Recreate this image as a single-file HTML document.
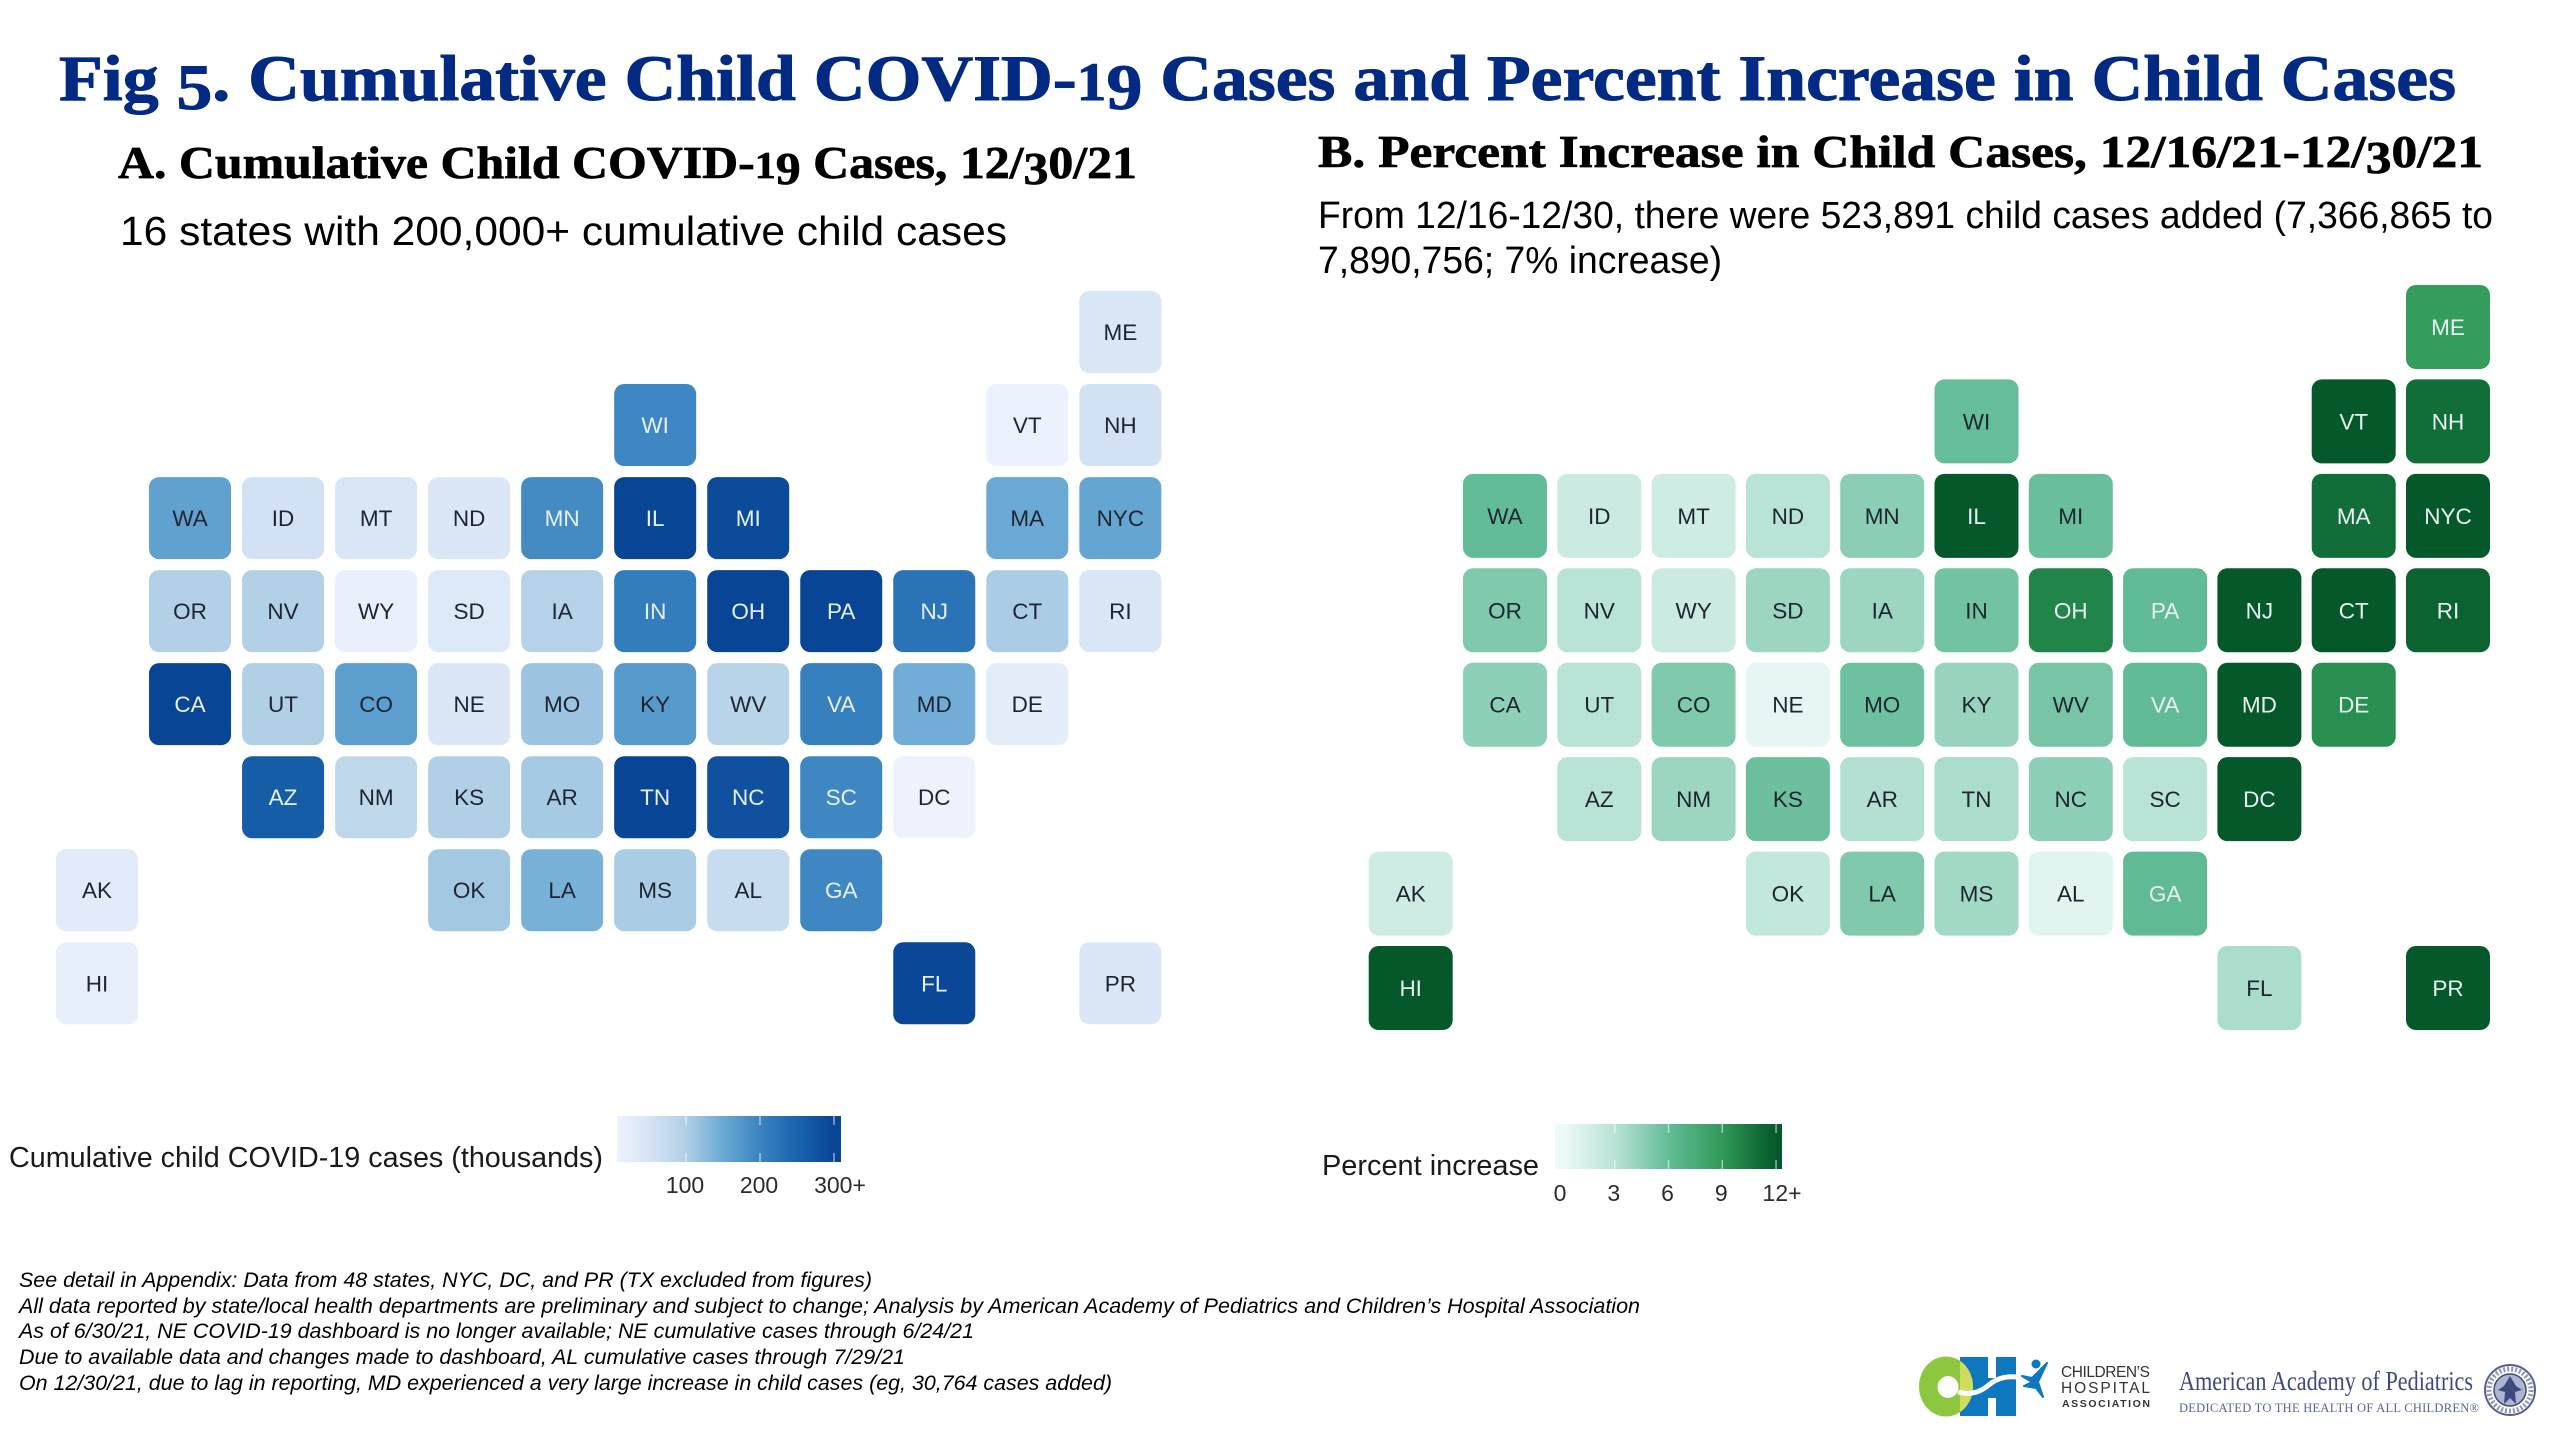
<!DOCTYPE html>
<html lang="en">
<head>
<meta charset="utf-8">
<title>Fig 5. Cumulative Child COVID-19 Cases and Percent Increase in Child Cases</title>
<style>
html,body{margin:0;padding:0;background:#fff;}
svg{display:block;}
.serif{font-family:"Liberation Serif",serif;font-weight:700;}
.sans{font-family:"Liberation Sans",sans-serif;}
</style>
</head>
<body>
<svg id="fig" xmlns="http://www.w3.org/2000/svg" width="2552" height="1430" viewBox="0 0 2552 1430">
<defs>
  <linearGradient id="grad-a" x1="0" x2="1" y1="0" y2="0"></linearGradient>
  <linearGradient id="grad-b" x1="0" x2="1" y1="0" y2="0"></linearGradient>
  <clipPath id="lime-clip"><rect x="1960" y="1350" width="20" height="70"/></clipPath>
</defs>
<rect x="0" y="0" width="2552" height="1430" fill="#ffffff"/>

<text class="serif" x="59" y="100" font-size="65" fill="#022a82" stroke="#022a82" stroke-width="1" textLength="2397" lengthAdjust="spacingAndGlyphs">Fig <tspan dy="9">5</tspan><tspan dy="-9">. Cumulative Child COVID-</tspan><tspan font-size="54">1</tspan><tspan dy="9">9</tspan><tspan dy="-9"> Cases and Percent Increase in Child Cases</tspan></text>

<text class="serif" x="118" y="178" font-size="45" fill="#000" stroke="#000" stroke-width="0.7" textLength="1019" lengthAdjust="spacingAndGlyphs">A. Cumulative Child COVID-<tspan font-size="38">1</tspan><tspan dy="6">9</tspan><tspan dy="-6"> Cases, 12/</tspan><tspan dy="6">3</tspan><tspan dy="-6">0/21</tspan></text>
<text class="sans" x="120" y="245" font-size="41" fill="#000" textLength="887" lengthAdjust="spacingAndGlyphs">16 states with 200,000+ cumulative child cases</text>

<text class="serif" x="1318" y="167" font-size="45" fill="#000" stroke="#000" stroke-width="0.7" textLength="1165" lengthAdjust="spacingAndGlyphs">B. Percent Increase in Child Cases, 12/16/21-12/<tspan dy="6">3</tspan><tspan dy="-6">0/21</tspan></text>
<text class="sans" x="1318" y="228" font-size="38" fill="#000" textLength="1175" lengthAdjust="spacingAndGlyphs">From 12/16-12/30, there were 523,891 child cases added (7,366,865 to</text>
<text class="sans" x="1318" y="273" font-size="38" fill="#000" textLength="404" lengthAdjust="spacingAndGlyphs">7,890,756; 7% increase)</text>

<g id="map-a"></g>
<g id="map-b"></g>

<text class="sans" x="9" y="1167" font-size="29" fill="#1a1a1a" textLength="594" lengthAdjust="spacingAndGlyphs">Cumulative child COVID-19 cases (thousands)</text>
<g id="legend-a"></g>
<text class="sans" x="1322" y="1175" font-size="29" fill="#1a1a1a" textLength="217" lengthAdjust="spacingAndGlyphs">Percent increase</text>
<g id="legend-b"></g>

<g class="sans" font-size="21" font-style="italic" fill="#000">
  <text x="19" y="1287" textLength="853" lengthAdjust="spacingAndGlyphs">See detail in Appendix: Data from 48 states, NYC, DC, and PR (TX excluded from figures)</text>
  <text x="19" y="1313" textLength="1621" lengthAdjust="spacingAndGlyphs">All data reported by state/local health departments are preliminary and subject to change; Analysis by American Academy of Pediatrics and Children’s Hospital Association</text>
  <text x="19" y="1338" textLength="955" lengthAdjust="spacingAndGlyphs">As of 6/30/21, NE COVID-19 dashboard is no longer available; NE cumulative cases through 6/24/21</text>
  <text x="19" y="1364" textLength="886" lengthAdjust="spacingAndGlyphs">Due to available data and changes made to dashboard, AL cumulative cases through 7/29/21</text>
  <text x="19" y="1390" textLength="1093" lengthAdjust="spacingAndGlyphs">On 12/30/21, due to lag in reporting, MD experienced a very large increase in child cases (eg, 30,764 cases added)</text>
</g>

<g>
  <rect x="1960" y="1357" width="28" height="59" fill="#0f77bd"/>
  <rect x="1996" y="1357" width="20" height="59" fill="#0f77bd"/>
  <rect x="1987" y="1378" width="10" height="20" fill="#0f77bd"/>
  <path fill-rule="evenodd" d="M1919 1386.5 a27 30 0 1 0 54 0 a27 30 0 1 0 -54 0 Z M1937.5 1387 a10.5 11 0 1 0 21 0 a10.5 11 0 1 0 -21 0 Z" fill="#8dc63f"/>
  <path fill-rule="evenodd" clip-path="url(#lime-clip)" d="M1919 1386.5 a27 30 0 1 0 54 0 a27 30 0 1 0 -54 0 Z M1937.5 1387 a10.5 11 0 1 0 21 0 a10.5 11 0 1 0 -21 0 Z" fill="#cfdc5c"/>
  <path d="M1958 1392 C1972 1396 1982 1391 1990 1384 C1998 1378 2006 1376 2016 1377" fill="none" stroke="#fff" stroke-width="5"/>
  <circle cx="2036" cy="1364" r="4.5" fill="#0f77bd"/>
  <path d="M2022 1376 L2032 1378 L2047 1363 L2038 1382 L2043 1397 L2036 1388 L2024 1386 L2032 1382 Z" fill="#0f77bd" stroke="#0f77bd" stroke-width="2" stroke-linejoin="round"/>
  <g class="sans" fill="#333">
    <text x="2061" y="1377" font-size="15.5" textLength="89" lengthAdjust="spacing">CHILDREN’S</text>
    <text x="2061" y="1393" font-size="15.5" textLength="89" lengthAdjust="spacing">HOSPITAL</text>
    <text x="2062" y="1407" font-size="10.5" font-weight="700" textLength="88" lengthAdjust="spacing">ASSOCIATION</text>
  </g>
</g>

<g>
  <text x="2179" y="1390" font-size="27" fill="#3d4a80" textLength="294" lengthAdjust="spacingAndGlyphs" style="font-family:'Liberation Serif',serif">American Academy of Pediatrics</text>
  <text x="2179" y="1412" font-size="12.5" fill="#5a6590" textLength="300" lengthAdjust="spacing" style="font-family:'Liberation Serif',serif">DEDICATED TO THE HEALTH OF ALL CHILDREN®</text>
  <circle cx="2510" cy="1390" r="25" fill="#fff" stroke="#55608f" stroke-width="2"/>
  <circle cx="2510" cy="1390" r="21" fill="none" stroke="#8f96b5" stroke-width="5" stroke-dasharray="2 2"/>
  <circle cx="2510" cy="1390" r="16" fill="#aeb4cd" stroke="#3d4a80" stroke-width="1.5"/>
  <path d="M2510 1376 L2516 1386 L2522 1390 L2515 1392 L2516 1404 L2510 1398 L2504 1404 L2505 1392 L2498 1390 L2504 1386 Z" fill="#3d4a80"/>
</g>
</svg>

<script>
// Tile map categories and grid slots
const stateCodes = ["ME","WI","VT","NH","WA","ID","MT","ND","MN","IL","MI","MA","NYC","OR","NV","WY","SD","IA","IN","OH","PA","NJ","CT","RI","CA","UT","CO","NE","MO","KY","WV","VA","MD","DE","AZ","NM","KS","AR","TN","NC","SC","DC","AK","OK","LA","MS","AL","GA","HI","FL","PR"];
const stateColumns = [11,6,10,11,1,2,3,4,5,6,7,10,11,1,2,3,4,5,6,7,8,9,10,11,1,2,3,4,5,6,7,8,9,10,2,3,4,5,6,7,8,9,0,4,5,6,7,8,0,9,11];
const stateRows = [0,1,1,1,2,2,2,2,2,2,2,2,2,3,3,3,3,3,3,3,3,3,3,3,4,4,4,4,4,4,4,4,4,4,5,5,5,5,5,5,5,5,6,6,6,6,6,6,7,7,7];
const casesThousands = [45,195,12,55,160,55,45,40,190,300,290,150,155,98,98,15,35,95,210,300,300,225,105,45,300,100,165,40,115,170,90,205,145,25,260,80,100,108,300,280,195,8,30,110,140,105,70,195,18,295,40];
const percentIncrease = [8.7,5.9,12,11,6,2,1.8,3,4.6,12,5.8,11,12,5,3,2,4,4,5.5,10,6.1,12,12,11.5,4.5,3,5,0.5,5.6,4.2,5.3,6.1,12,9.5,3,4,5.7,3.2,3.5,4.5,3,12,1.8,2.5,5,3.8,0.8,6.2,12,3.5,12];
// Legend ticks
const ticksA = [100,200,300];
const tickLabelsA = ["100","200","300+"];
const ticksB = [0,3,6,9,12];
const tickLabelsB = ["0","3","6","9","12+"];
// Colour ramps
const rampAValues = [0,50,100,150,200,250,300];
const rampAColors = ["#f1f5ff","#d6e4f5","#b1d0e6","#6aa9d4","#3a83c0","#1a63ad","#084594"];
const rampBValues = [0,3,6,9,12];
const rampBColors = ["#f0fafa","#b9e3d6","#63bc98","#2f9a58","#04582a"];

const NS = "http://www.w3.org/2000/svg";
function hexToRgb(h){return [1,3,5].map(function(i){return parseInt(h.substr(i,2),16);});}
function rampColor(values, colors, v){
  if(v<=values[0]) return colors[0];
  if(v>=values[values.length-1]) return colors[colors.length-1];
  for(var i=1;i<values.length;i++){
    if(v<=values[i]){
      var t=(v-values[i-1])/(values[i]-values[i-1]);
      var a=hexToRgb(colors[i-1]), b=hexToRgb(colors[i]);
      return "rgb("+a.map(function(c,k){return Math.round(c+(b[k]-c)*t);}).join(",")+")";
    }
  }
}
function make(tag, attrs){
  var e=document.createElementNS(NS,tag);
  Object.keys(attrs).forEach(function(k){e.setAttribute(k,attrs[k]);});
  return e;
}
function drawMap(cfg){
  var parent=document.getElementById(cfg.id);
  function xCol(c){return cfg.x0+c*cfg.pitchX;}
  function yRow(r){return cfg.y0+r*cfg.pitchY;}
  stateCodes.forEach(function(code,i){
    var v=cfg.values[i];
    var x=xCol(stateColumns[i]), y=yRow(stateRows[i]);
    var rect=make("rect",{x:x,y:y,width:cfg.size,height:cfg.size,rx:10,ry:10,fill:rampColor(cfg.rampV,cfg.rampC,v)});
    
    
    parent.appendChild(rect);
    var label=make("text",{x:x+cfg.size/2,y:y+cfg.size/2+8,"text-anchor":"middle","font-size":22.5,"class":"sans",fill:v>=cfg.lightAt?"#e8f0f4":"#1f2530"});
    
    
    label.textContent=code;
    parent.appendChild(label);
  });
}
function drawLegend(cfg){
  var parent=document.getElementById(cfg.id);
  function xVal(v){return cfg.xRef+(v-cfg.vRef)*cfg.pxPerUnit;}
  var lo=(cfg.barX0-cfg.xRef)/cfg.pxPerUnit+cfg.vRef, hi=(cfg.barX1-cfg.xRef)/cfg.pxPerUnit+cfg.vRef;
  var grad=document.getElementById(cfg.gradId);
  for(var s=0;s<=24;s++){
    var val=lo+(hi-lo)*s/24;
    grad.appendChild(make("stop",{offset:(s/24*100)+"%","stop-color":rampColor(cfg.rampV,cfg.rampC,val)}));
  }
  var bar=make("rect",{x:cfg.barX0,y:cfg.barY,width:cfg.barX1-cfg.barX0,height:cfg.barH,fill:"url(#"+cfg.gradId+")"});
  
  
  parent.appendChild(bar);
  cfg.ticks.forEach(function(t,i){
    var x=xVal(t);
    if(t>lo+1){
      var top=make("line",{x1:x,x2:x,y1:cfg.barY,y2:cfg.barY+9,stroke:"#ffffff","stroke-opacity":0.55,"stroke-width":1.5});
      
      
      parent.appendChild(top);
      var bot=make("line",{x1:x,x2:x,y1:cfg.barY+cfg.barH-9,y2:cfg.barY+cfg.barH,stroke:"#ffffff","stroke-opacity":0.55,"stroke-width":1.5});
      
      
      parent.appendChild(bot);
    }
    var lab=cfg.labels[i];
    var tx=make("text",{x:x+(lab.slice(-1)==="+"?7:0)-1,y:cfg.labelY,"text-anchor":"middle","font-size":23,"class":"sans",fill:"#2b2b2b"});
    
    
    tx.textContent=lab;
    parent.appendChild(tx);
  });
}
drawMap({id:"map-a",prefix:"a",values:casesThousands,rampV:rampAValues,rampC:rampAColors,x0:56,y0:291,pitchX:93.03,pitchY:93.04,size:82,lightAt:185});
drawMap({id:"map-b",prefix:"b",values:percentIncrease,rampV:rampBValues,rampC:rampBColors,x0:1368.7,y0:285,pitchX:94.3,pitchY:94.43,size:84,lightAt:6.05});
drawLegend({id:"legend-a",prefix:"a",gradId:"grad-a",ticks:ticksA,labels:tickLabelsA,rampV:rampAValues,rampC:rampAColors,xRef:686,vRef:100,pxPerUnit:0.74,barX0:617,barX1:841,barY:1116,barH:46,labelY:1193});
drawLegend({id:"legend-b",prefix:"b",gradId:"grad-b",ticks:ticksB,labels:tickLabelsB,rampV:rampBValues,rampC:rampBColors,xRef:1561,vRef:0,pxPerUnit:17.92,barX0:1555,barX1:1782,barY:1124,barH:45,labelY:1201});
</script>
</body>
</html>
